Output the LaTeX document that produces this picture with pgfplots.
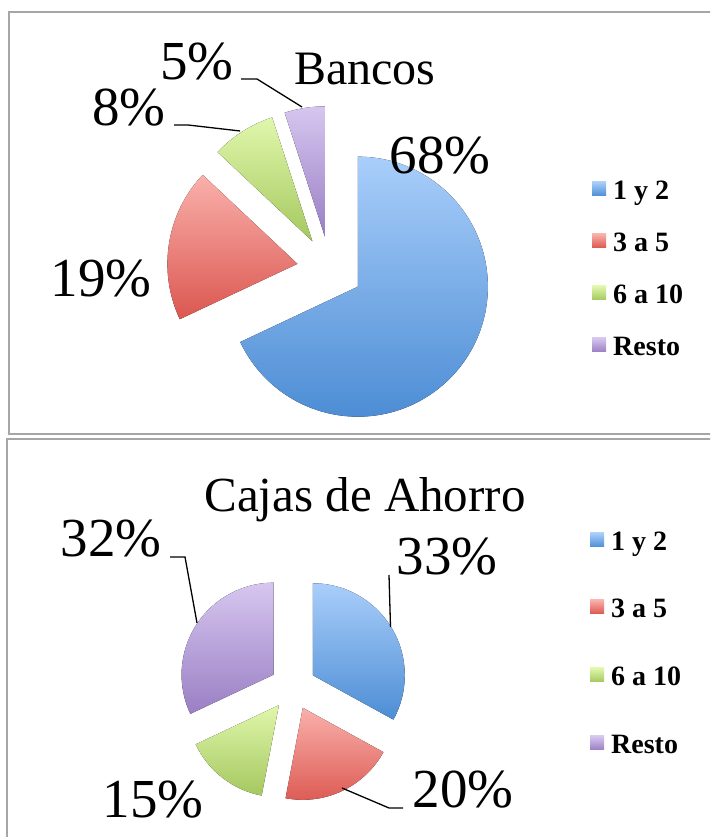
\documentclass[border=0pt]{standalone}
\usepackage{fontspec}
\setmainfont{Liberation Serif}
\usepackage{pgfplots}
\pgfplotsset{compat=1.18}
\definecolor{bT}{HTML}{A9CEFA}\definecolor{bB}{HTML}{4D8DD5}
\definecolor{rT}{HTML}{FAB0AB}\definecolor{rB}{HTML}{DB5750}
\definecolor{gT}{HTML}{E0F7AC}\definecolor{gB}{HTML}{A5C85F}
\definecolor{pT}{HTML}{D6C6EF}\definecolor{pB}{HTML}{9A7FC4}
\definecolor{frame}{HTML}{A6A6A6}
% #1,#2 centre, #3 radius, #4 explosion, #5 start angle, #6 end angle, #7/#8 colours
\newcommand\slice[8]{\fill[top color=#7,bottom color=#8,shift={({((#5)+(#6))/2}:#4pt)}]
  (axis cs:#1,#2) -- ++({#5}:#3pt) arc[start angle={#5},end angle={#6},radius=#3pt] -- cycle;}
\newcommand\pct[3]{\node[inner sep=0pt,font=\fontsize{55}{57}\selectfont] at (axis cs:#1,#2) {#3};}
\newcommand\leg[5]{%
  \fill[top color=#3,bottom color=#4] (axis cs:#1-21,#2+4) rectangle (axis cs:#1-7,#2+18);
  \node[anchor=base west,inner sep=0pt,font=\bfseries\fontsize{28}{30}\selectfont] at (axis cs:#1,#2) {#5};}
\begin{document}
\begin{tikzpicture}
\begin{axis}[width=710pt,height=837pt,scale only axis,xmin=0,xmax=710,ymin=0,ymax=837,hide axis]
% panel frames
\draw[frame,line width=2pt] (axis cs:9,825) rectangle (axis cs:740,403);
\draw[frame,line width=2pt] (axis cs:7,398) rectangle (axis cs:740,-20);
% ---- Bancos: 68, 19, 8, 5 ----
\slice{330}{568}{130}{33}{90}{90-3.6*68}{bT}{bB}
\slice{330}{568}{130}{33}{90-3.6*68}{90-3.6*(68+19)}{rT}{rB}
\slice{330}{568}{130}{33}{90-3.6*(68+19)}{90-3.6*(68+19+8)}{gT}{gB}
\slice{330}{568}{130}{33}{90-3.6*(68+19+8)}{90-3.6*(68+19+8+5)}{pT}{pB}
\node[inner sep=0pt,font=\fontsize{48}{50}\selectfont] at (axis cs:365,768) {Bancos};
\pct{440}{681}{68\%}
\pct{101}{558}{19\%}
\pct{129}{729}{8\%}
\pct{197}{775}{5\%}
\draw[line width=1.3pt] (axis cs:241,758) -- (axis cs:257,758) -- (axis cs:302,730);
\draw[line width=1.3pt] (axis cs:174,712) -- (axis cs:188,712) -- (axis cs:240,706);
\leg{613}{637}{bT}{bB}{1 y 2}
\leg{613}{585}{rT}{rB}{3 a 5}
\leg{613}{533}{gT}{gB}{6 a 10}
\leg{613}{481}{pT}{pB}{Resto}
% ---- Cajas de Ahorro: 33, 20, 15, 32 ----
\slice{293}{150}{92}{23}{90}{90-3.6*33}{bT}{bB}
\slice{293}{150}{92}{23}{90-3.6*33}{90-3.6*(33+20)}{rT}{rB}
\slice{293}{150}{92}{23}{90-3.6*(33+20)}{90-3.6*(33+20+15)}{gT}{gB}
\slice{293}{150}{92}{23}{90-3.6*(33+20+15)}{90-3.6*(33+20+15+32)}{pT}{pB}
\node[anchor=base,inner sep=0pt,font=\fontsize{49}{51}\selectfont] at (axis cs:365,325) {Cajas de Ahorro};
\pct{447}{280}{33\%}
\pct{111}{298}{32\%}
\pct{463}{47}{20\%}
\pct{153}{37}{15\%}
\draw[line width=1.3pt] (axis cs:389,262) -- (axis cs:390.5,210);
\draw[line width=1.3pt] (axis cs:170,280) -- (axis cs:185,280) -- (axis cs:197,214);
\draw[line width=1.3pt] (axis cs:342,49) -- (axis cs:389,29) -- (axis cs:403,29);
\leg{611}{286}{bT}{bB}{1 y 2}
\leg{611}{219}{rT}{rB}{3 a 5}
\leg{611}{151}{gT}{gB}{6 a 10}
\leg{611}{83}{pT}{pB}{Resto}
\end{axis}
\pgfresetboundingbox
\path (0,0) rectangle (710pt,837pt);
\end{tikzpicture}
\end{document}
